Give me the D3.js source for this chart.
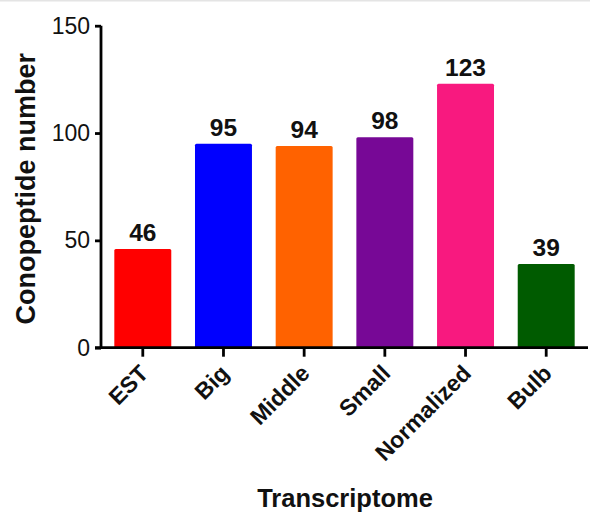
<!DOCTYPE html>
<html><head><meta charset="utf-8">
<script src="https://cdn.jsdelivr.net/npm/d3@7"></script>
<style>body{margin:0;background:#fff;}svg{display:block;font-family:"Liberation Sans",Arial,sans-serif;}</style>
</head><body>
<script>
const categories = ["EST","Big","Middle","Small","Normalized","Bulb"];
const values = [46,95,94,98,123,39];
const colors = ["#ff0000","#0000ff","#ff6200","#770896","#f8197f","#005b00"];
const yTicks = [0,50,100,150];

const W=590,H=514;
const svg=d3.select("body").append("svg").attr("width",W).attr("height",H);
svg.append("rect").attr("x",0).attr("y",0).attr("width",W).attr("height",1.5).attr("fill","#e4e4e4");

const x0=101, x1=588, yTop=25.7, yBot=347.7;
const x=d3.scaleBand().domain(categories).range([x0,x1]).paddingInner(0.294).paddingOuter(0.165);
const y=d3.scaleLinear().domain([0,150]).range([yBot,yTop]);

// bars
svg.selectAll("rect.bar").data(values).join("rect").attr("class","bar")
  .attr("x",(d,i)=>x(categories[i])).attr("width",x.bandwidth())
  .attr("y",d=>y(d)).attr("height",d=>yBot-y(d))
  .attr("rx",1.5).attr("fill",(d,i)=>colors[i]);

// value labels
svg.selectAll("text.val").data(values).join("text").attr("class","val")
  .attr("x",(d,i)=>x(categories[i])+x.bandwidth()/2).attr("y",d=>y(d)-8)
  .attr("text-anchor","middle").attr("font-size",24.5).attr("font-weight","bold").attr("fill","#111")
  .text(d=>d);

// y axis
const yAxis=d3.axisLeft(y).tickValues(yTicks).tickSize(6).tickPadding(5).tickFormat(d3.format("d"));
const gy=svg.append("g").attr("transform",`translate(${x0},0)`).call(yAxis);
gy.select(".domain").attr("stroke","#000").attr("stroke-width",2.8).attr("d",`M0,${yTop}V${yBot+1.4}`);
gy.selectAll(".tick line").attr("stroke","#000").attr("stroke-width",2.8);
gy.selectAll(".tick text").attr("font-size",23).attr("fill","#111").attr("font-family","Liberation Sans, Arial, sans-serif");

// x axis
const xAxis=d3.axisBottom(x).tickSize(9).tickSizeOuter(0);
const gx=svg.append("g").attr("transform",`translate(0,${yBot})`).call(xAxis);
gx.select(".domain").attr("stroke","#000").attr("stroke-width",2.8).attr("d",`M${x0-6},0H${x1}`);
gx.selectAll(".tick line").attr("stroke","#000").attr("stroke-width",2.8);
gx.selectAll(".tick text")
  .attr("font-size",23).attr("font-weight","bold").attr("fill","#111")
  .attr("font-family","Liberation Sans, Arial, sans-serif")
  .attr("text-anchor","end").attr("x",0).attr("y",0).attr("dy",null)
  .attr("transform","translate(7,27) rotate(-45)");

// axis titles
svg.append("text").attr("transform",`translate(35,${(yTop+yBot)/2+2}) rotate(-90)`)
  .attr("text-anchor","middle").attr("font-size",27).attr("font-weight","bold").attr("fill","#111")
  .text("Conopeptide number");
svg.append("text").attr("x",345).attr("y",507).attr("text-anchor","middle")
  .attr("font-size",25.5).attr("font-weight","bold").attr("fill","#111").text("Transcriptome");
</script>
</body></html>
